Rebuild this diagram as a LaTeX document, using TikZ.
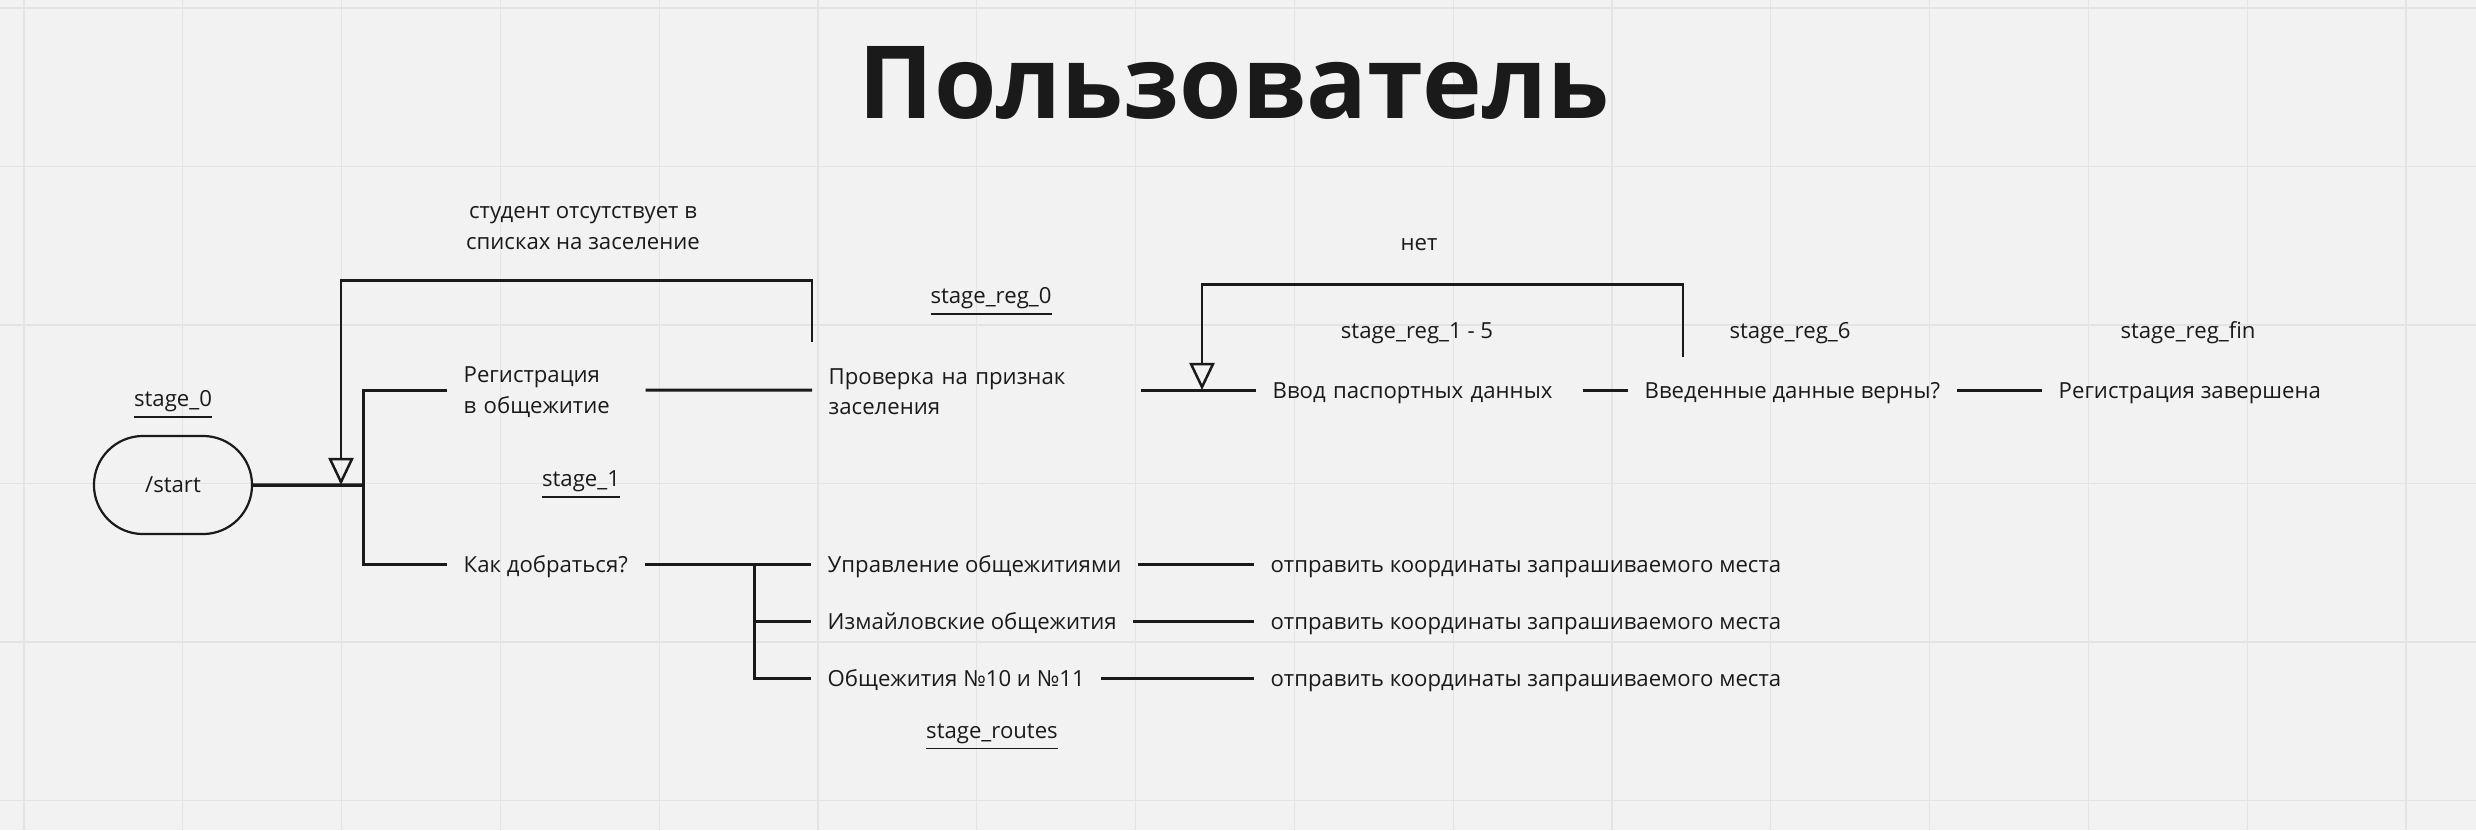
\documentclass[tikz,border=0pt]{standalone}
\usepackage{fontspec}
\setmainfont{Open Sans}
\usetikzlibrary{arrows.meta,shapes.misc,positioning}
\definecolor{board}{HTML}{F2F2F2}
\definecolor{gridc}{HTML}{E4E4E4}
\definecolor{ink}{HTML}{1A1A1A}
\tikzset{
  txt/.style={font=\fontsize{6.3}{8.6}\selectfont, text=ink, inner sep=0pt},
  item/.style={txt, anchor=west, inner xsep=0.16cm, align=left},
  one/.style={item, text height=6.6pt, text depth=1.7pt},
  wide/.style={item, text width=#1},
  tag/.style={txt, align=center},
  link/.style={draw=ink, line width=0.03cm},
  back/.style={draw=ink, line width=0.025cm,
    -{Triangle[open, length=0.27cm, width=0.25cm, line width=0.025cm]}},
  gridline/.style={draw=gridc, line width=0.012cm}
}
\begin{document}
\begin{tikzpicture}[x=0.01cm, y=-0.01cm]
    % Board
    \fill[board] (0,0) rectangle (2476,830);
    \useasboundingbox (0,0) rectangle (2476,830);
    \foreach \gx in {0,...,15} {
        \draw[gridline] ({24+158.8*\gx},0) -- ++(0,830);
    }
    \foreach \gy in {0,...,5} {
        \draw[gridline] (0,{8+158.5*\gy}) -- ++(2476,0);
    }

    % Title
    \node[txt, font=\fontsize{28.7}{34}\selectfont\bfseries] (title) at (1234,83) {Пользователь};

    % Nodes
    \node[txt, draw=ink, line width=0.022cm, rounded rectangle, minimum width=1.58cm, minimum height=0.98cm] (start) at (173,485) {/start};
    \node[wide=1.65cm] (reg) at (447,392) {Регистрация\\в общежитие};
    \node[wide=2.95cm, minimum height=0.94cm] (check) at (812,392) {Проверка на признак\\заселения};
    \node[one, text width=2.93cm] (passport) at (1256,390) {Ввод паспортных данных};
    \node[one, minimum height=0.64cm] (valid) at (1628,390) {Введенные данные верны?};
    \node[one] (final) at (2042,390) {Регистрация завершена};
    \node[one] (how) at (447,564) {Как добраться?};
    \node[one] (route1) at (811,564) {Управление общежитиями};
    \node[one] (route2) at (811,621) {Измайловские общежития};
    \node[one] (route3) at (811,678) {Общежития №10 и №11};
    \foreach \r/\ry in {1/564,2/621,3/678} {
        \node[one] (send\r) at (1254,\ry) {отправить координаты запрашиваемого места};
    }

    % Stage labels
    \node[tag] (s0) at (173,405) {\underline{stage\_0}};
    \node[tag] (s1) at (581,485) {\underline{stage\_1}};
    \node[tag] (sreg0) at (991,302) {\underline{stage\_reg\_0}};
    \node[tag] (sreg15) at (1417,333) {stage\_reg\_1 - 5};
    \node[tag] (sreg6) at (1790,333) {stage\_reg\_6};
    \node[tag] (sregfin) at (2188,333) {stage\_reg\_fin};
    \node[tag] (sroutes) at (992,737) {\underline{stage\_routes}};
    \node[tag] (absent) at (583,228) {студент отсутствует в\\списках на заселение};
    \node[tag] (no) at (1419,245) {нет};

    % Connectors
    \coordinate (fork) at (363,485);
    \coordinate (hook) at (341,485);
    \coordinate (hook2) at (1202,390);
    \coordinate (split) at (754,564);
    \draw[link, line width=0.035cm] (start) -- (fork);
    \draw[link] ([yshift=0.02cm]reg.west) -| (fork) |- (how.west);
    \draw[link] ([yshift=0.02cm]reg.east) -- (check.west |- passport.west);
    \draw[link] (check.east |- passport.east) -- (passport.west);
    \draw[link] (passport.east) -- (valid.west);
    \draw[link] (valid.east) -- (final.west);
    \draw[link] (how.east) -- (route1.west);
    \draw[link] (split) |- (route3.west);
    \draw[link] (split |- route2.west) -- (route2.west);
    \foreach \r in {1,2,3} {
        \draw[link] (route\r.east) -- (send\r.west);
    }

    % Loops back
    \draw[back] ([yshift=0.02cm]check.north west) -- ++(0,-62) -| (hook);
    \draw[back] ([xshift=0.55cm]valid.north west) -- ++(0,-73) -| (hook2);
\end{tikzpicture}
\end{document}
